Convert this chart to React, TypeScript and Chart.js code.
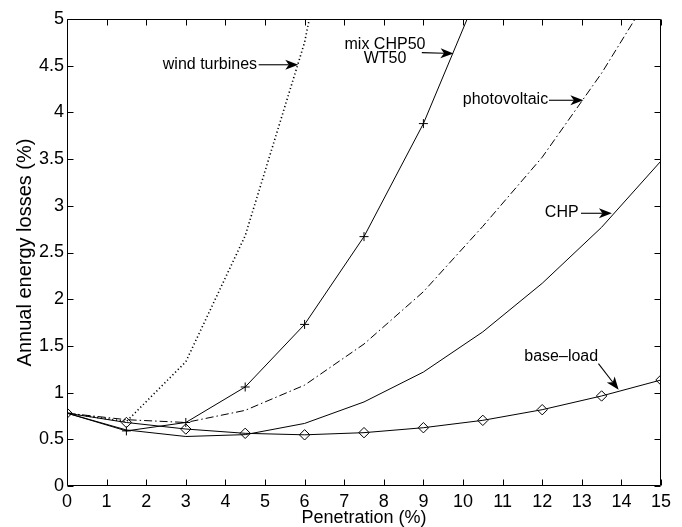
import { useEffect, useRef } from 'react';
import { Chart, registerables } from 'chart.js';

Chart.register(...registerables);

// Penetration (%) sample points
const penetration = [0, 1.5, 3, 4.5, 6, 7.5, 9, 10.5, 12, 13.5, 15];

// Annual energy losses (%) per technology
const baseLoad = [0.78, 0.68, 0.61, 0.564, 0.548, 0.571, 0.624, 0.703, 0.817, 0.964, 1.135];
const chp = [0.78, 0.6, 0.53, 0.55, 0.67, 0.9, 1.22, 1.65, 2.17, 2.77, 3.48];
const photovoltaic = [0.78, 0.71, 0.68, 0.81, 1.08, 1.52, 2.08, 2.78, 3.52, 4.42, 5.45];
const mixChpWt = [0.78, 0.59, 0.68, 1.06, 1.73, 2.67, 3.88, 5.4];
const windTurbines = [0.78, 0.69, 1.33, 2.68, 4.75, 7.9];

const xTicks = [0, 1, 2, 3, 4, 5, 6, 7, 8, 9, 10, 11, 12, 13, 14, 15];
const yTicks = [0, 0.5, 1, 1.5, 2, 2.5, 3, 3.5, 4, 4.5, 5];

// Annotation texts (data coordinates)
const labelTexts = ['wind turbines', 'mix CHP50', 'WT50', 'photovoltaic', 'CHP', 'base\u2013load'];
const labelX = [4.8, 8.03, 8.03, 12.15, 12.92, 12.48];
const labelY = [4.51, 4.73, 4.58, 4.14, 2.93, 1.39];
const labelAlign: CanvasTextAlign[] = ['right', 'center', 'center', 'right', 'right', 'center'];

// Annotation arrows: tail -> tip (data coordinates)
const arrowFromX = [4.84, 8.96, 12.17, 12.98, 13.42];
const arrowFromY = [4.51, 4.64, 4.13, 2.92, 1.31];
const arrowToX = [5.84, 9.76, 13.04, 13.76, 13.93];
const arrowToY = [4.51, 4.63, 4.13, 2.92, 1.03];

const FONT = '"Liberation Sans", Arial, Helvetica, sans-serif';

function toPoints(ys: number[]) {
  return ys.map((y, i) => ({ x: penetration[i], y }));
}

const framePlugin = {
  id: 'matlabFrame',
  afterDatasetsDraw(chart: any) {
    const { ctx, chartArea, scales } = chart;
    const { left, right, top, bottom } = chartArea;
    ctx.save();
    ctx.strokeStyle = '#000';
    ctx.lineWidth = 1;
    ctx.beginPath();
    const L = Math.round(left) + 0.5;
    const R = Math.round(right) - 0.5;
    const T = Math.round(top) + 0.5;
    const B = Math.round(bottom) - 0.5;
    ctx.rect(L, T, R - L, B - T);
    const tl = 6;
    xTicks.forEach((v) => {
      const px = Math.round(scales.x.getPixelForValue(v)) + 0.5;
      ctx.moveTo(px, B);
      ctx.lineTo(px, B - tl);
      ctx.moveTo(px, T);
      ctx.lineTo(px, T + tl);
    });
    yTicks.forEach((v) => {
      const py = Math.round(scales.y.getPixelForValue(v)) + 0.5;
      ctx.moveTo(L, py);
      ctx.lineTo(L + tl, py);
      ctx.moveTo(R, py);
      ctx.lineTo(R - tl, py);
    });
    ctx.stroke();
    ctx.restore();
  },
  afterDraw(chart: any) {
    const { ctx, scales } = chart;
    const sx = scales.x;
    const sy = scales.y;
    ctx.save();
    ctx.fillStyle = '#000';
    ctx.strokeStyle = '#000';
    ctx.font = `16px ${FONT}`;
    ctx.textBaseline = 'middle';
    labelTexts.forEach((t, i) => {
      ctx.textAlign = labelAlign[i];
      ctx.fillText(t, sx.getPixelForValue(labelX[i]), sy.getPixelForValue(labelY[i]));
    });
    arrowFromX.forEach((_, i) => {
      const x0 = sx.getPixelForValue(arrowFromX[i]);
      const y0 = sy.getPixelForValue(arrowFromY[i]);
      const x1 = sx.getPixelForValue(arrowToX[i]);
      const y1 = sy.getPixelForValue(arrowToY[i]);
      const ang = Math.atan2(y1 - y0, x1 - x0);
      const len = 13;
      const hw = 5;
      const notch = 3.5;
      ctx.lineWidth = 1.1;
      ctx.beginPath();
      ctx.moveTo(x0, y0);
      ctx.lineTo(x1 - Math.cos(ang) * (len - notch), y1 - Math.sin(ang) * (len - notch));
      ctx.stroke();
      ctx.save();
      ctx.translate(x1, y1);
      ctx.rotate(ang);
      ctx.beginPath();
      ctx.moveTo(0, 0);
      ctx.lineTo(-len, -hw);
      ctx.lineTo(-len + notch, 0);
      ctx.lineTo(-len, hw);
      ctx.closePath();
      ctx.fill();
      ctx.restore();
    });
    ctx.restore();
  },
};

export default function App() {
  const ref = useRef<HTMLCanvasElement>(null);
  useEffect(() => {
    document.body.style.margin = '0';
    const chart = new Chart(ref.current!, {
      type: 'line',
      data: {
        datasets: [
          {
            label: 'base-load',
            data: toPoints(baseLoad),
            borderColor: '#000',
            borderWidth: 1,
            pointStyle: 'rectRot',
            pointRadius: 5.2,
            pointBorderWidth: 1,
            pointBorderColor: '#000',
            pointBackgroundColor: 'rgba(0,0,0,0)',
            tension: 0,
          },
          {
            label: 'CHP',
            data: toPoints(chp),
            borderColor: '#000',
            borderWidth: 1,
            pointRadius: 0,
            tension: 0,
          },
          {
            label: 'photovoltaic',
            data: toPoints(photovoltaic),
            borderColor: '#000',
            borderWidth: 1,
            borderDash: [8, 3, 1.5, 3],
            pointRadius: 0,
            tension: 0,
          },
          {
            label: 'mix CHP50 WT50',
            data: toPoints(mixChpWt),
            borderColor: '#000',
            borderWidth: 1,
            pointStyle: 'cross',
            pointRadius: 4.5,
            pointBorderWidth: 1,
            pointBorderColor: '#000',
            tension: 0,
          },
          {
            label: 'wind turbines',
            data: toPoints(windTurbines),
            borderColor: '#000',
            borderWidth: 1.6,
            borderDash: [1.2, 2.6],
            pointRadius: 0,
            tension: 0,
          },
        ],
      },
      options: {
        responsive: false,
        animation: false,
        events: [],
        layout: { padding: { left: 0, top: 19, right: 21, bottom: 0 } },
        plugins: {
          legend: { display: false },
          tooltip: { enabled: false },
          title: { display: false },
        },
        scales: {
          x: {
            type: 'linear',
            min: 0,
            max: 15,
            border: { display: false },
            grid: { display: false, drawTicks: false },
            afterFit: (s: any) => {
              s.height = 41;
            },
            ticks: {
              stepSize: 1,
              autoSkip: false,
              maxRotation: 0,
              padding: 5,
              color: '#000',
              font: { family: FONT, size: 18 },
            },
            title: {
              display: true,
              text: 'Penetration (%)',
              color: '#000',
              font: { family: FONT, size: 18, lineHeight: 1 },
              padding: { top: 0, bottom: 0 },
            },
          },
          y: {
            type: 'linear',
            min: 0,
            max: 5,
            border: { display: false },
            grid: { display: false, drawTicks: false },
            afterFit: (s: any) => {
              s.width = 67;
            },
            ticks: {
              stepSize: 0.5,
              autoSkip: false,
              padding: 3,
              color: '#000',
              font: { family: FONT, size: 18 },
              callback: (v: any) => String(Math.round(Number(v) * 10) / 10),
            },
            title: {
              display: true,
              text: 'Annual energy losses (%)',
              color: '#000',
              font: { family: FONT, size: 20, lineHeight: 1 },
              padding: { top: 15, bottom: 0 },
            },
          },
        },
      },
      plugins: [framePlugin],
    });
    return () => chart.destroy();
  }, []);
  return (
    <div style={{ width: 682, height: 527 }}>
      <canvas ref={ref} width={682} height={527} style={{ display: 'block' }} />
    </div>
  );
}
